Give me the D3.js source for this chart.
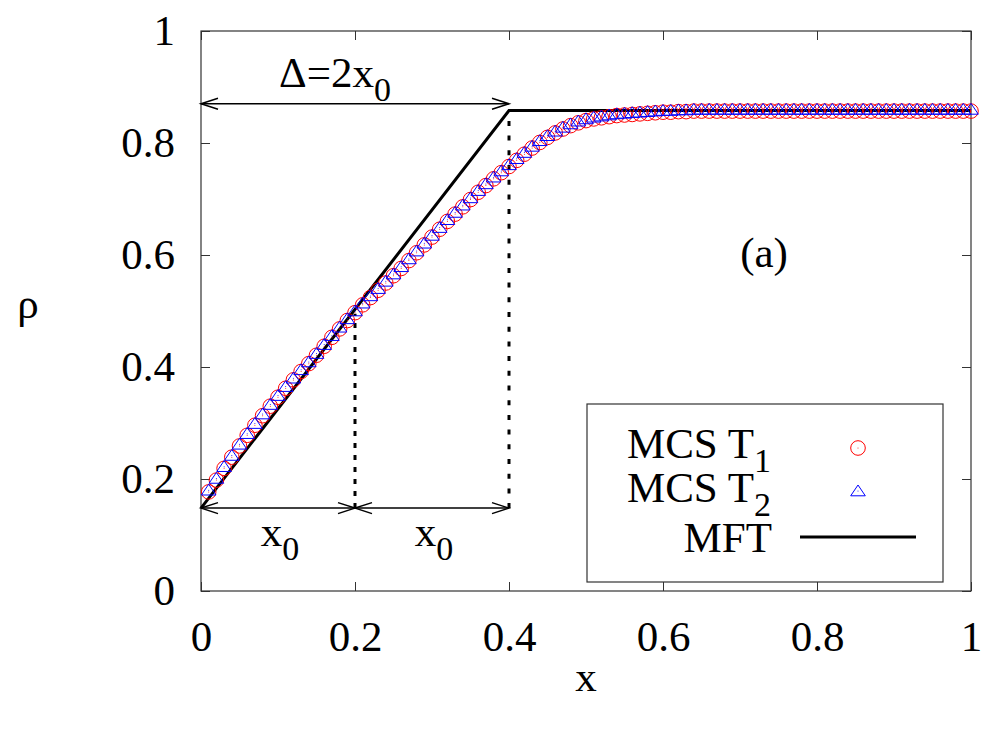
<!DOCTYPE html>
<html>
<head>
<meta charset="utf-8">
<script src="https://cdn.jsdelivr.net/npm/d3@7"></script>
<style>
  body { margin: 0; background: #fff; }
  text { font-family: "Liberation Serif", "DejaVu Serif", serif; fill: #000; }
</style>
</head>
<body>
<script>
// Chart data
var xTicks = [0, 0.2, 0.4, 0.6, 0.8, 1]
var yTicks = [0, 0.2, 0.4, 0.6, 0.8, 1]

// sampling grid of the simulation points (x = 0.01 ... 1.00)
var xs = d3.range(1, 101).map(function(i) { return i / 100 })

var mcsT1 = [
  0.177, 0.198, 0.219, 0.239, 0.259, 0.278, 0.296, 0.313, 0.330, 0.346,
  0.362, 0.377, 0.392, 0.406, 0.421, 0.437, 0.453, 0.468, 0.483, 0.497,
  0.511, 0.524, 0.537, 0.550, 0.563, 0.576, 0.590, 0.604, 0.618, 0.632,
  0.646, 0.660, 0.673, 0.686, 0.699, 0.712, 0.724, 0.736, 0.747, 0.758,
  0.769, 0.780, 0.791, 0.801, 0.810, 0.818, 0.825, 0.831, 0.836, 0.840,
  0.843, 0.845, 0.847, 0.849, 0.850, 0.851, 0.852, 0.853, 0.854, 0.855,
  0.855, 0.856, 0.856, 0.857, 0.857, 0.857, 0.857, 0.857, 0.857, 0.857,
  0.857, 0.857, 0.857, 0.857, 0.857, 0.857, 0.857, 0.857, 0.857, 0.857,
  0.857, 0.857, 0.857, 0.857, 0.857, 0.857, 0.857, 0.857, 0.857, 0.857,
  0.857, 0.857, 0.857, 0.857, 0.857, 0.857, 0.857, 0.857, 0.857, 0.857
]
var mcsT2 = [
  0.180, 0.201, 0.222, 0.242, 0.262, 0.281, 0.299, 0.316, 0.333, 0.349,
  0.365, 0.380, 0.395, 0.409, 0.424, 0.440, 0.456, 0.471, 0.486, 0.500,
  0.514, 0.527, 0.540, 0.553, 0.566, 0.579, 0.593, 0.607, 0.621, 0.635,
  0.649, 0.663, 0.676, 0.689, 0.702, 0.715, 0.727, 0.739, 0.750, 0.761,
  0.772, 0.783, 0.794, 0.804, 0.813, 0.821, 0.828, 0.834, 0.839, 0.843,
  0.846, 0.848, 0.850, 0.852, 0.853, 0.854, 0.855, 0.856, 0.857, 0.858,
  0.858, 0.859, 0.859, 0.860, 0.860, 0.860, 0.860, 0.860, 0.860, 0.860,
  0.860, 0.860, 0.860, 0.860, 0.860, 0.860, 0.860, 0.860, 0.860, 0.860,
  0.860, 0.860, 0.860, 0.860, 0.860, 0.860, 0.860, 0.860, 0.860, 0.860,
  0.860, 0.860, 0.860, 0.860, 0.860, 0.860, 0.860, 0.860, 0.860, 0.860
]
// mean field theory: piecewise linear
var mftX = [0, 0.4, 1]
var mftY = [0.148, 0.858, 0.858]

// annotation values
var x0 = 0.2
var arrowLowY = 0.148
var arrowTopY = 0.87

// layout
var width = 996, height = 732
var plotLeft = 201, plotRight = 971, plotTop = 31, plotBottom = 591
var fontSize = 43, subSize = 34

var svg = d3.select("body").append("svg")
  .attr("width", width)
  .attr("height", height)

var x = d3.scaleLinear().domain([0, 1]).range([plotLeft, plotRight])
var y = d3.scaleLinear().domain([0, 1]).range([plotBottom, plotTop])

// axes (ticks point inward, mirrored on top/right)
var axB = svg.append("g").attr("transform", "translate(0," + plotBottom + ")")
  .call(d3.axisBottom(x).tickValues(xTicks).tickSizeInner(-9).tickSizeOuter(0).tickPadding(29)
    .tickFormat(d3.format("~g")))
var axL = svg.append("g").attr("transform", "translate(" + plotLeft + ",0)")
  .call(d3.axisLeft(y).tickValues(yTicks).tickSizeInner(-9).tickSizeOuter(0).tickPadding(26)
    .tickFormat(d3.format("~g")))
var axT = svg.append("g").attr("transform", "translate(0," + plotTop + ")")
  .call(d3.axisTop(x).tickValues(xTicks).tickSizeInner(-9).tickSizeOuter(0).tickFormat(""))
var axR = svg.append("g").attr("transform", "translate(" + plotRight + ",0)")
  .call(d3.axisRight(y).tickValues(yTicks).tickSizeInner(-9).tickSizeOuter(0).tickFormat(""))

;[axB, axL, axT, axR].forEach(function(a) {
  a.select(".domain").remove()
  a.selectAll(".tick line").attr("stroke", "#333").attr("stroke-width", 1)
  a.selectAll(".tick text")
    .style("font-family", "'Liberation Serif', serif")
    .style("font-size", fontSize + "px")
    .attr("fill", "#000")
})

// frame
svg.append("rect")
  .attr("x", plotLeft).attr("y", plotTop)
  .attr("width", plotRight - plotLeft).attr("height", plotBottom - plotTop)
  .attr("fill", "none").attr("stroke", "#333").attr("stroke-width", 1.2)

// axis titles
svg.append("text").attr("x", 586).attr("y", 691)
  .attr("text-anchor", "middle").style("font-size", fontSize + "px").text("x")
svg.append("text").attr("x", 28).attr("y", 318)
  .attr("text-anchor", "middle").style("font-size", fontSize + "px").text("ρ")

// dashed guides
svg.append("line")
  .attr("x1", x(x0)).attr("x2", x(x0))
  .attr("y1", y(arrowLowY)).attr("y2", y(0.495))
  .attr("stroke", "#000").attr("stroke-width", 3).attr("stroke-dasharray", "5,7")
svg.append("line")
  .attr("x1", x(2 * x0)).attr("x2", x(2 * x0))
  .attr("y1", y(arrowLowY)).attr("y2", y(0.845))
  .attr("stroke", "#000").attr("stroke-width", 3).attr("stroke-dasharray", "5,9.7")

// double headed arrows
function arrow(xa, xb, yv) {
  var px1 = x(xa), px2 = x(xb), py = y(yv), L = 17, W = 5.5
  svg.append("line").attr("x1", px1).attr("x2", px2).attr("y1", py).attr("y2", py)
    .attr("stroke", "#000").attr("stroke-width", 1.5)
  svg.append("path")
    .attr("d", "M" + (px1 + L) + "," + (py - W) + "L" + px1 + "," + py + "L" + (px1 + L) + "," + (py + W) +
               "M" + (px2 - L) + "," + (py - W) + "L" + px2 + "," + py + "L" + (px2 - L) + "," + (py + W))
    .attr("fill", "none").attr("stroke", "#000").attr("stroke-width", 1.5)
}
arrow(0, x0, arrowLowY)
arrow(x0, 2 * x0, arrowLowY)
arrow(0, 2 * x0, arrowTopY)

// subscripted labels
function subLabel(px, py, main, sub, anchor) {
  var t = svg.append("text").attr("x", px).attr("y", py)
    .attr("text-anchor", anchor || "middle").style("font-size", fontSize + "px")
  t.append("tspan").text(main)
  t.append("tspan").attr("dy", 14).style("font-size", subSize + "px").text(sub)
  return t
}
subLabel(x(x0 / 2) + 2, 546, "x", "0")
subLabel(x(x0 * 1.5) + 2, 546, "x", "0")
subLabel(x(x0) - 20, 87, "Δ=2x", "0")

svg.append("text").attr("x", 764).attr("y", 267)
  .attr("text-anchor", "middle").style("font-size", fontSize + "px").text("(a)")

// MFT line
var mftPts = mftX.map(function(d, i) { return [d, mftY[i]] })
svg.append("path")
  .datum(mftPts)
  .attr("d", d3.line().x(function(d) { return x(d[0]) }).y(function(d) { return y(d[1]) }))
  .attr("fill", "none").attr("stroke", "#000").attr("stroke-width", 3)

// markers
var triPath = "M0,-6L7.3,4.8L-7.3,4.8Z"
function drawCircle(g, cx, cy) {
  g.append("circle").attr("cx", cx).attr("cy", cy).attr("r", 7.3)
    .attr("fill", "none").attr("stroke", "#ff0000").attr("stroke-width", 1)
  g.append("circle").attr("cx", cx).attr("cy", cy).attr("r", 0.5).attr("fill", "#ff0000")
}
function drawTri(g, cx, cy) {
  g.append("path").attr("d", triPath).attr("transform", "translate(" + cx + "," + cy + ")")
    .attr("fill", "none").attr("stroke", "#0000ff").attr("stroke-width", 1)
  g.append("circle").attr("cx", cx).attr("cy", cy).attr("r", 0.5).attr("fill", "#0000ff")
}
var gT1 = svg.append("g")
xs.forEach(function(d, i) { drawCircle(gT1, x(d), y(mcsT1[i])) })
var gT2 = svg.append("g")
xs.forEach(function(d, i) { drawTri(gT2, x(d), y(mcsT2[i])) })

// legend
var lg = svg.append("g")
lg.append("rect").attr("x", 587).attr("y", 404).attr("width", 356).attr("height", 178)
  .attr("fill", "#fff").attr("stroke", "#333").attr("stroke-width", 1.2)
subLabel(771, 458, "MCS T", "1", "end")
subLabel(771, 502, "MCS T", "2", "end")
lg.append("text").attr("x", 772).attr("y", 552).attr("text-anchor", "end")
  .style("font-size", fontSize + "px").text("MFT")
drawCircle(lg, 858, 448)
drawTri(lg, 858, 491)
lg.append("line").attr("x1", 800).attr("x2", 916).attr("y1", 537).attr("y2", 537)
  .attr("stroke", "#000").attr("stroke-width", 3)
</script>
</body>
</html>
